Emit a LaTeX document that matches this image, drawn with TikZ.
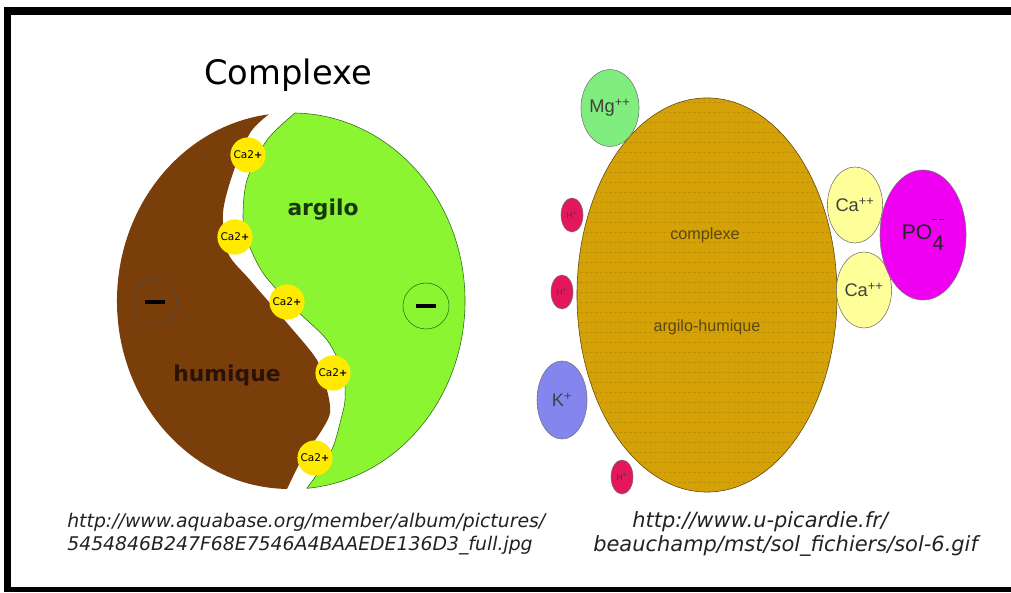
\documentclass[tikz,border=0pt]{standalone}
\usepackage{amsmath}
\usepackage{fontspec}
\usepackage{tikz}
\usetikzlibrary{shapes.geometric}
\setmainfont{DejaVu Sans}
\newfontfamily\ionfont{Liberation Sans}
\definecolor{cHumus}{HTML}{7A3E0B}
\definecolor{cHumusTxt}{HTML}{2A1206}
\definecolor{cClay}{HTML}{8CF532}
\definecolor{cClayInk}{HTML}{2F6A1A}
\definecolor{cClayTxt}{HTML}{17380C}
\definecolor{cCalc}{HTML}{FFEA00}
\definecolor{cGold}{HTML}{D4A206}
\definecolor{cGoldInk}{HTML}{5C4710}
\definecolor{cMg}{HTML}{7FEE7F}
\definecolor{cH}{HTML}{E3165E}
\definecolor{cK}{HTML}{8585EE}
\definecolor{cCa}{HTML}{FFFF99}
\definecolor{cPO}{HTML}{F000F0}
\definecolor{cInk}{HTML}{222222}
\tikzset{
  frame/.style  = {fill=black},
  cabond/.style = {circle, fill=cCalc, inner sep=0pt, minimum size=8.8mm,
                   font=\fontsize{7.5}{8}\selectfont},
  charge/.style = {circle, draw, thin, inner sep=0pt, minimum size=11.5mm},
  part/.style   = {font=\bfseries\fontsize{15.5}{16}\selectfont},
  grain/.style  = {draw=cGoldInk, opacity=.2, line width=.7pt,
                   dash pattern=on 2pt off 1.5pt},
  ion/.style    = {ellipse, draw=black!55, thin, inner sep=0pt, text=black!75,
                   font=\ionfont\fontsize{13}{13}\selectfont},
  hion/.style   = {ion, fill=cH, minimum width=5.5mm, minimum height=8.5mm,
                   font=\ionfont\fontsize{6}{6}\selectfont},
  url/.style    = {anchor=west, inner sep=0pt, text=cInk,
                   font=\itshape\fontsize{13.4}{14}\selectfont},
  urlwide/.style = {url, font=\itshape\fontsize{14.9}{15}\selectfont},
}
\newcommand{\minusbar}{\rule{5mm}{1mm}}
\newcommand{\twodash}{\rule{1.3mm}{.35mm}\hspace{.5mm}\rule{1.3mm}{.35mm}}

\begin{document}
\begin{tikzpicture}[x=0.025cm, y=0.025cm]
  \useasboundingbox (0,0) rectangle (1011,592);
  % frame
  \fill[frame] (4,577) rectangle (1011,585);
  \fill[frame] (4,0) rectangle (11,585);
  \fill[frame] (4,0) rectangle (1011,5);

  % left: the two halves of the complex
  \node[font=\fontsize{24}{24}\selectfont] (title) at (288,517) {Complexe};
  \fill[cHumus] (287,103) arc[start angle=269, end angle=97,
      x radius=4.325cm, y radius=4.7cm]
    -- plot[smooth] coordinates {(268,477) (250,459) (233,419) (223,379)
      (228,339) (250,312) (287,269) (317,232) (327,202) (330,179)
      (320,159) (303,135) (287,103)} -- cycle;
  \filldraw[fill=cClay, draw=cClayInk, thin] (295,479) arc[start angle=89,
      end angle=-85, x radius=4.325cm, y radius=4.7cm]
    -- plot[smooth] coordinates {(307,104) (320,122) (333,145) (340,169)
      (345,192) (343,219) (327,252) (293,285) (263,319) (247,352)
      (243,375) (247,412) (267,452) (295,479)} -- cycle;
  \node[part, text=cClayTxt] (argilo) at (323,382) {argilo};
  \node[part, text=cHumusTxt] (humique) at (227,217) {humique};
  \node[charge, draw=black!70, minimum width=10.8mm, minimum height=12mm,
        ellipse] (mA) at (155,290) {\minusbar};
  \node[charge, draw=cClayInk] (mB) at (426,286) {\minusbar};
  % calcium bridges
  \foreach \n/\x/\y in {1/248/437, 2/235/355, 3/287/290, 4/333/219, 5/315/134}
    \node[cabond] (ca\n) at (\x,\y) {Ca2{\bfseries\scriptsize +}};

  % right: the exchange complex and its cations
  \filldraw[fill=cGold, draw=cGoldInk, thin] (707,297) ellipse
    [x radius=3.25cm, y radius=4.925cm];
  \begin{scope}
    \clip (707,297) ellipse [x radius=3.25cm, y radius=4.925cm];
    \foreach \r in {0,...,39}
      \draw[grain] (575,100+\r*10) -- (840,100+\r*10);
  \end{scope}
  \node[text=cGoldInk, font=\ionfont\fontsize{11.5}{12}\selectfont]
    (cx) at (705,357) {complexe};
  \node[text=cGoldInk, font=\ionfont\fontsize{11.5}{12}\selectfont]
    (ah) at (707,265) {argilo-humique};

  \node[ion, fill=cMg, minimum width=12.5mm, minimum height=19.2mm]
    (mg) at (610,484) {Mg$^{\text{++}}$};
  \node[hion] (h1) at (572,377) {H$^{\text{+}}$};
  \node[hion] (h2) at (562,300) {H$^{\text{+}}$};
  \node[ion, fill=cK, minimum width=12.5mm, minimum height=19.5mm]
    (k) at (562,192) {K$^{\text{+}}$};
  \node[hion] (h3) at (622,115) {H$^{\text{+}}$};
  \node[ion, fill=cCa, minimum width=11.8mm, minimum height=19mm]
    (caA) at (855,387) {Ca$^{\text{++}}$};
  \node[ion, fill=cCa, minimum width=12mm, minimum height=19mm]
    (caB) at (864,302) {Ca$^{\text{++}}$};
  \node[ion, fill=cPO, minimum width=21.5mm, minimum height=32.5mm,
        font=\ionfont\fontsize{15}{15}\selectfont, text=black!85]
    (po) at (923,357) {PO\raisebox{-.55em}{4}\llap{\raisebox{.9em}{\twodash}}};

  % sources
  \node[url] (srcA) at (67,70) {http://www.aquabase.org/member/album/pictures/};
  \node[url] (srcB) at (67,46) {5454846B247F68E7546A4BAAEDE136D3\_full.jpg};
  \node[urlwide] (srcC) at (632,70) {http://www.u-picardie.fr/};
  \node[urlwide] (srcD) at (593,46) {beauchamp/mst/sol\_fichiers/sol-6.gif};
\end{tikzpicture}
\end{document}
